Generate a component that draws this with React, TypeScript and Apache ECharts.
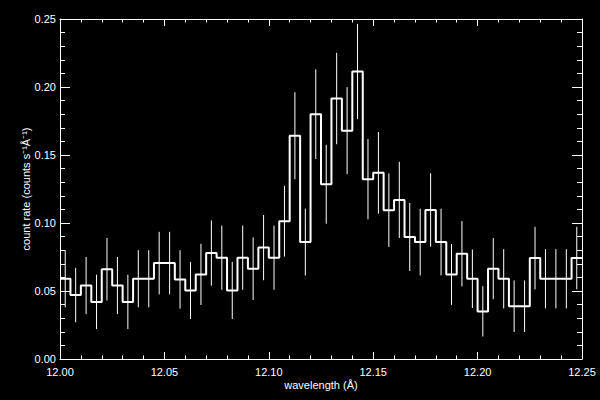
import React, { useEffect, useRef } from "react";
import * as echarts from "echarts";

// Histogram bins: 50 bins of 0.005 Å starting at 12.000 Å
const BIN_START = 12.0;
const BIN_WIDTH = 0.005;

// count rate per bin (counts s^-1 Å^-1)
const countRate = [
  0.059, 0.047, 0.054, 0.042, 0.066, 0.054, 0.042, 0.059, 0.059, 0.0705,
  0.0705, 0.0585, 0.0504, 0.0622, 0.0779, 0.0745, 0.0504, 0.0745, 0.0664, 0.0819,
  0.0745, 0.1013, 0.1642, 0.086, 0.18, 0.1285, 0.1915, 0.1679, 0.2114, 0.1322,
  0.1369, 0.1094, 0.117, 0.0897, 0.086, 0.1096, 0.086, 0.0622, 0.0774, 0.059,
  0.035, 0.0664, 0.059, 0.0388, 0.0388, 0.0742, 0.059, 0.059, 0.059, 0.0742,
];

// 1-sigma error per bin
const errors = [
  0.021, 0.02, 0.021, 0.02, 0.023, 0.021, 0.02, 0.021, 0.021, 0.023,
  0.023, 0.0215, 0.021, 0.0225, 0.024, 0.0236, 0.021, 0.0236, 0.023, 0.024,
  0.0236, 0.026, 0.032, 0.0246, 0.033, 0.029, 0.0336, 0.032, 0.035, 0.0295,
  0.03, 0.027, 0.028, 0.025, 0.0245, 0.027, 0.0245, 0.0224, 0.024, 0.0215,
  0.0185, 0.0225, 0.0218, 0.019, 0.019, 0.023, 0.0218, 0.0218, 0.0218, 0.023,
];

const X_MIN = 12.0;
const X_MAX = 12.25;
const X_INTERVAL = 0.05;
const Y_MIN = 0;
const Y_MAX = 0.25;
const Y_INTERVAL = 0.05;

const FONT = "Liberation Sans";

export default function App() {
  const ref = useRef<HTMLDivElement>(null);

  useEffect(() => {
    if (!ref.current) return;
    const chart = echarts.init(ref.current, undefined, { renderer: "svg" });

    const stepData: number[][] = countRate.map((v, i) => [BIN_START + i * BIN_WIDTH, v]);
    stepData.push([BIN_START + countRate.length * BIN_WIDTH, countRate[countRate.length - 1]]);

    const errData = countRate.map((v, i) => [
      BIN_START + (i + 0.5) * BIN_WIDTH,
      v,
      errors[i],
    ]);

    const lineStyle = { color: "#fff", width: 1 };
    const baseX = {
      type: "value" as const,
      min: X_MIN,
      max: X_MAX,
      interval: X_INTERVAL,
      splitLine: { show: false },
      axisLine: { show: true, onZero: false, lineStyle },
      axisTick: { show: true, inside: true, length: 7, lineStyle },
      minorTick: { show: true, splitNumber: 5, length: 3.5, lineStyle },
    };
    const baseY = {
      type: "value" as const,
      min: Y_MIN,
      max: Y_MAX,
      interval: Y_INTERVAL,
      splitLine: { show: false },
      axisLine: { show: true, onZero: false, lineStyle },
      axisTick: { show: true, inside: true, length: 10, lineStyle },
      minorTick: { show: true, splitNumber: 5, length: 5, lineStyle },
    };

    chart.setOption({
      animation: false,
      backgroundColor: "#000",
      grid: { left: 60, right: 18, top: 19, bottom: 41 },
      xAxis: [
        {
          ...baseX,
          position: "bottom",
          axisLabel: {
            color: "#fff",
            fontSize: 11,
            fontFamily: FONT,
            margin: 7,
            formatter: (v: number) => v.toFixed(2),
          },
          name: "wavelength (Å)",
          nameLocation: "middle",
          nameGap: 20,
          nameMoveOverlap: false,
          nameTextStyle: { color: "#fff", fontSize: 11, fontFamily: FONT },
        },
        {
          ...baseX,
          position: "top",
          axisLabel: { show: false },
        },
      ],
      yAxis: [
        {
          ...baseY,
          position: "left",
          axisLabel: {
            color: "#fff",
            fontSize: 11,
            fontFamily: FONT,
            margin: 4,
            formatter: (v: number) => v.toFixed(2),
          },
          name: "count rate (counts s⁻¹Å⁻¹)",
          nameLocation: "middle",
          nameGap: 29,
          nameMoveOverlap: false,
          nameRotate: 90,
          nameTextStyle: { color: "#fff", fontSize: 11, fontFamily: FONT },
        },
        {
          ...baseY,
          position: "right",
          axisLabel: { show: false },
        },
      ],
      series: [
        {
          type: "custom",
          xAxisIndex: 0,
          yAxisIndex: 0,
          data: errData,
          encode: { x: 0, y: 1 },
          z: 2,
          renderItem: (_params: any, api: any) => {
            const x = api.value(0);
            const y = api.value(1);
            const e = api.value(2);
            const p1 = api.coord([x, y + e]);
            const p2 = api.coord([x, y - e]);
            return {
              type: "line",
              shape: { x1: p1[0], y1: p1[1], x2: p2[0], y2: p2[1] },
              style: { stroke: "#fff", lineWidth: 1 },
            };
          },
        },
        {
          type: "line",
          xAxisIndex: 0,
          yAxisIndex: 0,
          data: stepData,
          step: "end",
          showSymbol: false,
          symbol: "none",
          z: 3,
          lineStyle: { color: "#fff", width: 2 },
        },
      ],
    });

    return () => chart.dispose();
  }, []);

  return (
    <div
      ref={ref}
      style={{
        position: "absolute",
        top: 0,
        left: 0,
        width: 600,
        height: 400,
        background: "#000",
      }}
    />
  );
}
